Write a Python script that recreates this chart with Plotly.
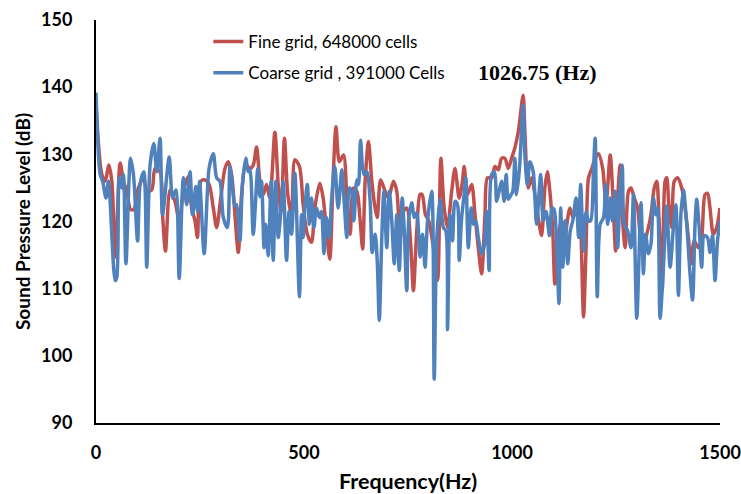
import plotly.graph_objects as go

# Fine grid spectrum (648000 cells)
fine_hz = [0, 14, 22, 31, 38, 47, 58, 66, 74, 83, 91, 102, 114, 123, 134, 142, 154, 160, 167, 178,
           190, 200, 210, 222, 230, 238, 244, 252, 262, 272, 282, 290, 300, 310, 318, 326, 334, 342,
           350, 360, 370, 378, 386, 394, 402, 410, 418, 430, 438, 445, 453, 461, 470, 478, 489, 498,
           508, 518, 526, 538, 546, 554, 562, 570, 577, 585, 595, 603, 611, 619, 627, 635, 641, 647,
           655, 663, 671, 676, 684, 695, 703, 715, 723, 731, 739, 747, 757, 763, 771, 779, 784, 792,
           800, 811, 821, 829, 837, 845, 855, 863, 873, 881, 885, 893, 903, 911, 919, 927, 935, 941,
           951, 959, 967, 975, 983, 991, 999, 1007, 1015, 1026.75, 1031, 1039, 1047, 1055, 1063, 1071,
           1079, 1085, 1091, 1098, 1103, 1111, 1119, 1127, 1133, 1139, 1147, 1156, 1160, 1165, 1172,
           1178, 1184, 1192, 1200, 1208, 1218, 1226, 1236, 1242, 1249, 1254, 1260, 1265, 1272, 1280,
           1286, 1294, 1302, 1310, 1318, 1326, 1334, 1342, 1348, 1353, 1361, 1368, 1372, 1377, 1384,
           1390, 1398, 1408, 1416, 1424, 1430, 1438, 1448, 1456, 1464, 1470, 1476, 1484, 1492, 1500]
fine_spl = [137.5, 127.0, 126.0, 128.4, 126.0, 114.7, 128.7, 126.0, 124.5, 121.8, 121.8, 125.0, 126.5,
            124.5, 124.7, 127.9, 127.4, 121.0, 115.6, 124.7, 123.0, 120.1, 124.5, 126.7, 122.0, 120.1,
            117.6, 126.0, 126.2, 125.5, 122.0, 119.1, 123.5, 127.9, 128.9, 127.0, 121.0, 115.4, 124.0,
            128.4, 127.9, 128.4, 131.1, 126.0, 124.0, 125.5, 123.5, 133.3, 125.5, 121.5, 132.4, 124.0,
            121.0, 129.2, 128.2, 122.5, 118.1, 116.9, 122.0, 125.7, 123.5, 118.6, 114.4, 126.5, 134.1,
            128.9, 129.9, 123.5, 118.1, 125.0, 124.5, 120.1, 115.9, 126.0, 131.9, 126.0, 122.0, 120.6,
            126.2, 124.5, 123.5, 126.0, 124.5, 117.6, 121.5, 122.0, 116.1, 109.7, 118.6, 124.0, 124.0,
            121.0, 120.1, 116.1, 111.2, 129.4, 122.0, 119.1, 124.5, 127.9, 123.5, 126.0, 128.2, 124.0,
            125.5, 121.0, 116.1, 112.2, 121.0, 126.5, 126.5, 128.2, 127.7, 129.4, 129.4, 127.9, 129.4,
            131.0, 133.3, 138.8, 133.3, 125.0, 126.5, 124.0, 120.6, 117.9, 125.0, 127.4, 124.5, 118.6,
            110.7, 117.6, 120.1, 117.6, 120.1, 122.0, 120.6, 122.0, 123.0, 119.6, 105.8, 116.1, 126.5,
            127.9, 129.4, 130.1, 127.9, 122.5, 129.9, 124.5, 115.6, 123.5, 128.4, 121.0, 116.1, 124.5,
            125.0, 123.5, 122.0, 117.6, 117.1, 118.6, 121.0, 125.0, 126.0, 121.0, 109.7, 126.0, 126.5,
            122.5, 119.1, 126.0, 126.5, 125.0, 122.0, 117.6, 113.7, 117.1, 116.1, 117.6, 124.0, 124.2,
            122.0, 118.1, 119.1, 122.0]

# Coarse grid spectrum (391000 cells)
coarse_hz = [0, 10, 16, 24, 30, 46, 50, 56, 62, 66, 72, 83, 90, 100, 106, 115, 122, 130, 139, 146,
             154, 160, 176, 184, 192, 200, 210, 218, 226, 232, 240, 244, 249, 260, 272, 282, 290, 298,
             306, 316, 322, 329, 334, 338, 346, 352, 360, 366, 370, 378, 389, 394, 398, 404, 408, 414,
             421, 426, 432, 438, 445, 450, 458, 464, 470, 478, 489, 494, 498, 502, 508, 513, 518, 524,
             530, 537, 542, 548, 554, 561, 566, 574, 582, 591, 596, 603, 609, 615, 620, 627, 631, 636,
             644, 651, 659, 664, 671, 676, 681, 687, 692, 699, 705, 711, 717, 723, 729, 736, 741, 747,
             752, 759, 765, 771, 779, 785, 791, 797, 807, 813, 819, 827, 835, 841, 845, 851, 857, 863,
             869, 873, 879, 885, 889, 895, 902, 907, 913, 919, 927, 934, 939, 945, 951, 958, 963, 969,
             975, 981, 986, 991, 998, 1002, 1007, 1011, 1018, 1026.75, 1031, 1037, 1043, 1051, 1059,
             1069, 1075, 1082, 1090, 1096, 1101, 1108, 1113, 1117, 1122, 1128, 1134, 1140, 1146, 1154,
             1160, 1165, 1172, 1178, 1184, 1189, 1196, 1200, 1205, 1212, 1220, 1225, 1230, 1236, 1241,
             1248, 1254, 1260, 1265, 1270, 1278, 1286, 1292, 1300, 1310, 1316, 1321, 1328, 1334, 1340,
             1346, 1350, 1356, 1364, 1372, 1380, 1388, 1394, 1400, 1406, 1412, 1420, 1428, 1434, 1440,
             1444, 1450, 1456, 1462, 1470, 1476, 1482, 1488, 1494, 1500]
coarse_spl = [139.2, 127.0, 126.0, 123.5, 126.0, 111.2, 111.7, 126.5, 125.0, 127.0, 113.7, 129.4, 127.0,
              117.1, 125.5, 127.4, 113.2, 128.4, 131.6, 127.4, 132.4, 121.0, 129.6, 123.5, 124.7, 111.5,
              126.5, 122.5, 127.4, 121.0, 125.2, 121.5, 126.0, 115.2, 128.0, 130.1, 126.5, 126.0, 120.6,
              119.1, 128.2, 124.5, 122.3, 122.5, 117.1, 125.5, 129.4, 127.4, 127.7, 118.1, 127.9, 123.7,
              126.0, 116.1, 119.6, 114.9, 126.0, 114.2, 126.0, 117.6, 122.0, 126.0, 114.2, 121.5, 118.1,
              127.2, 108.8, 121.0, 117.6, 122.0, 125.5, 119.6, 123.5, 119.1, 122.0, 120.6, 121.5, 115.2,
              120.6, 117.6, 123.0, 128.2, 122.0, 127.7, 123.5, 117.6, 125.0, 124.5, 120.1, 126.2, 125.5,
              132.1, 127.0, 127.4, 123.0, 115.4, 118.1, 114.2, 105.3, 117.6, 124.5, 116.1, 124.5, 120.1,
              113.7, 121.0, 112.7, 123.5, 118.6, 109.7, 120.5, 122.8, 120.6, 121.3, 114.7, 118.1, 113.2,
              120.1, 124.5, 96.5, 117.1, 123.3, 119.1, 118.6, 103.9, 121.0, 117.1, 123.0, 122.5, 114.2,
              120.6, 124.0, 126.5, 116.1, 122.0, 119.6, 120.1, 117.6, 115.2, 116.6, 121.5, 112.7, 127.0,
              127.4, 123.0, 124.5, 126.0, 123.0, 127.0, 123.3, 124.0, 124.5, 129.4, 124.0, 127.9, 137.3,
              129.9, 125.5, 128.9, 127.4, 119.6, 127.0, 120.1, 121.5, 117.9, 122.0, 121.8, 115.2, 107.8,
              122.0, 113.2, 120.1, 113.7, 118.6, 120.1, 123.5, 117.6, 125.5, 115.6, 121.5, 120.1, 120.1,
              127.9, 132.4, 108.8, 119.6, 120.6, 125.5, 119.6, 123.5, 120.1, 124.5, 116.1, 125.0, 128.4,
              119.6, 118.6, 116.1, 124.0, 105.6, 122.8, 112.2, 118.1, 115.2, 116.6, 123.5, 121.0, 122.0,
              105.6, 113.2, 122.3, 113.2, 119.1, 122.5, 109.0, 121.0, 124.7, 119.6, 112.2, 108.3, 119.6,
              123.3, 119.1, 113.2, 117.9, 117.6, 115.4, 117.9, 111.2, 117.1, 120.1]

x_ticks = [0, 500, 1000, 1500]
y_ticks = [90, 100, 110, 120, 130, 140, 150]
peak_hz = 1026.75
peak_label = "1026.75 (Hz)"

RED = "#C0504D"
BLUE = "#4F81BD"

fig = go.Figure()
fig.add_trace(go.Scatter(
    x=fine_hz, y=fine_spl, mode="lines", name="Fine grid, 648000 cells",
    legendgroup="fine",
    line=dict(color=RED, width=3.5, shape="spline", smoothing=0.8),
))
fig.add_trace(go.Scatter(
    x=coarse_hz, y=coarse_spl, mode="lines", name="Coarse grid , 391000 Cells",
    legendgroup="coarse",
    line=dict(color=BLUE, width=3.5, shape="spline", smoothing=0.8),
))

# Peak frequency label, set just right of and above the peak
fig.add_annotation(
    x=peak_hz, y=max(fine_spl), xref="x", yref="y", text="<b>" + peak_label + "</b>",
    showarrow=False, xanchor="center", yanchor="bottom", xshift=14, yshift=8,
    font=dict(family="Liberation Serif", size=22, color="#000000"),
)

axis_font = dict(family="Lato", size=18, color="#000000", weight="bold")

fig.update_layout(
    width=741, height=494,
    margin=dict(l=96, r=21, t=20, b=71),
    paper_bgcolor="white", plot_bgcolor="white",
    showlegend=True,
    legend=dict(
        x=0.18, y=0.99, xanchor="left", yanchor="top",
        bgcolor="rgba(0,0,0,0)", borderwidth=0,
        font=dict(family="Lato", size=17, color="#000000"),
        tracegroupgap=6, itemwidth=30,
    ),
    xaxis=dict(
        range=[0, 1500], tickvals=x_ticks, showgrid=False, zeroline=False,
        showline=True, linecolor="#000000", linewidth=2, ticks="",
        automargin=False,
        tickfont=axis_font, ticklabelstandoff=12,
        title=dict(text="Frequency(Hz)", font=dict(family="Lato", size=21.5, color="#000000", weight="bold"), standoff=16),
    ),
    yaxis=dict(
        range=[90, 150], tickvals=y_ticks, showgrid=False, zeroline=False,
        showline=True, linecolor="#000000", linewidth=2, ticks="",
        automargin=False,
        tickfont=axis_font, ticklabelstandoff=18,
        title=dict(text="Sound Pressure Level (dB)", font=dict(family="Lato", size=19, color="#000000", weight="bold"), standoff=5),
    ),
)

fig.write_html("out.html")
